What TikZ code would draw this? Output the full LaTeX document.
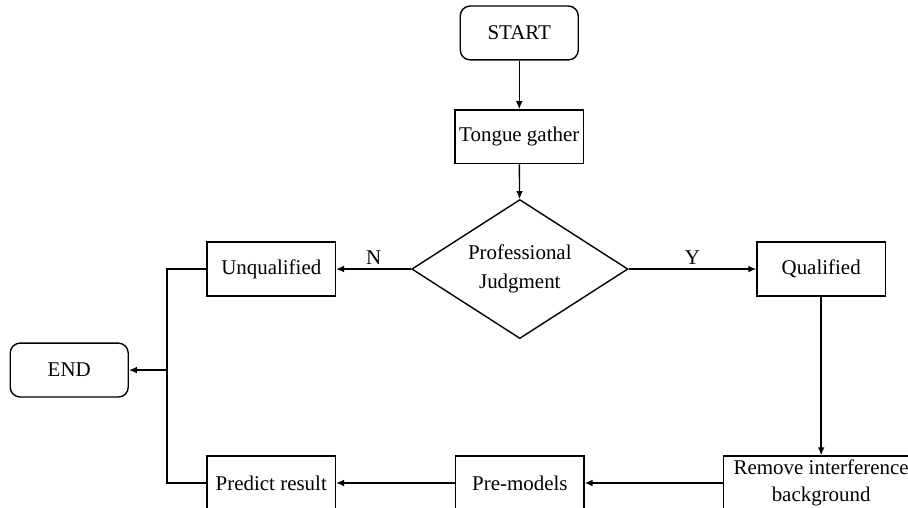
\documentclass[tikz,border=0pt]{standalone}
\usepackage{fontspec}
\setmainfont{Liberation Serif}
\usetikzlibrary{shapes.geometric,arrows.meta}

\begin{document}
\begin{tikzpicture}[line width=0.7pt,
  term/.style={draw,rounded corners=5pt,minimum width=2.08cm,minimum height=0.95cm,inner sep=1pt},
  box/.style={draw,minimum width=2.26cm,minimum height=0.95cm,inner sep=1pt,align=center},
  decide/.style={draw,diamond,aspect=1.55,minimum width=3.81cm,minimum height=2.45cm,inner sep=0pt,align=center},
  lbl/.style={above,midway,inner sep=2pt},
  arr/.style={-{Latex[length=4pt,width=3.4pt]}},
  every node/.append style={font=\fontsize{10.5}{13.5}\selectfont}]

  \clip (0,0) rectangle (16,8.951);

  % top part
  \node[term] (start) at (9.15,8.37) {START};
  \node[box] (tongue) at (9.15,6.54) {Tongue gather};
  \node[decide] (judge) at (9.16,4.21) {Professional\\[1pt]Judgment};

  % middle row
  \node[box] (unq) at (4.78,4.21) {Unqualified};
  \node[box] (qual) at (14.47,4.21) {Qualified};
  \node[term] (end) at (1.22,2.43) {END};

  % bottom row
  \node[box] (pred) at (4.78,0.44) {Predict result};
  \node[box] (pre) at (9.16,0.44) {Pre-models};
  \node[box,minimum width=3.45cm] (rem) at (14.47,0.44) {Remove interference\\background};

  \coordinate (jn) at (2.94,2.43);

  % connectors
  \draw[arr] (start) -- (tongue);
  \draw[arr] (tongue) -- (judge);
  \draw[arr] (judge.west) -- (unq.east) node[lbl]{N};
  \draw[arr] (judge.east) -- (qual.west) node[lbl]{Y};
  \draw[arr] (qual) -- (rem);
  \draw[arr] (rem) -- (pre);
  \draw[arr] (pre) -- (pred);
  \draw (unq.west) -| (jn) |- (pred.west);
  \draw[arr] (jn) -- (end);

\end{tikzpicture}
\end{document}
